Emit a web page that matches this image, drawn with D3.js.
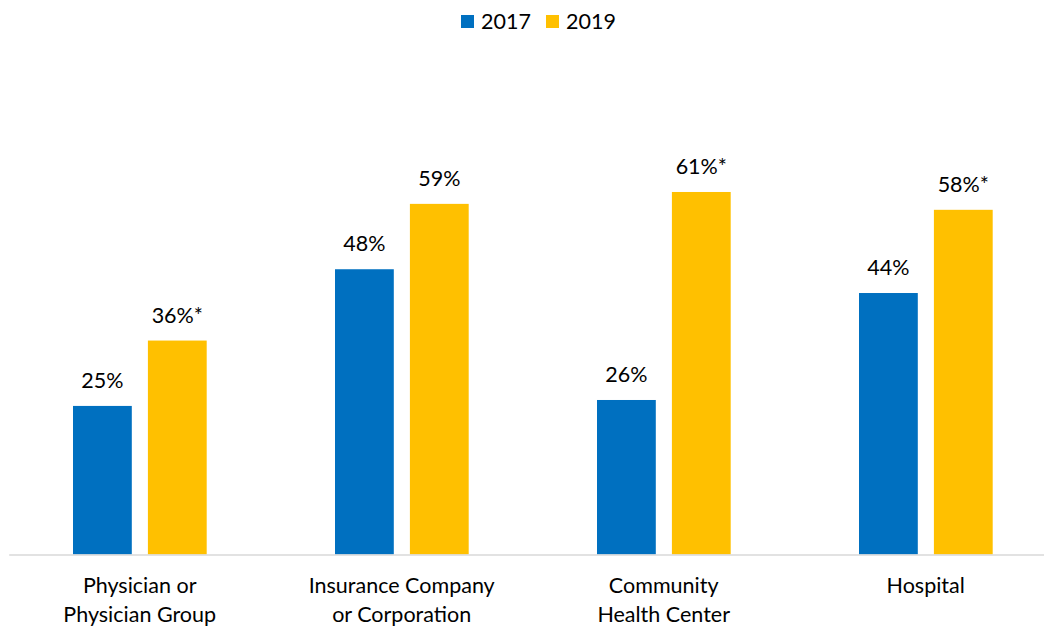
<!DOCTYPE html>
<html>
<head>
<meta charset="utf-8">
<script src="https://cdn.jsdelivr.net/npm/d3@7"></script>
<style>
  html, body { margin: 0; padding: 0; background: #ffffff; }
  svg { display: block; font-family: Lato, "Open Sans", sans-serif; }
</style>
</head>
<body>
<svg id="chart" width="1044" height="629"></svg>
<script>
// Share of respondents by organization type, 2017 vs 2019
const categories = [
  ["Physician or", "Physician Group"],
  ["Insurance Company", "or Corporation"],
  ["Community", "Health Center"],
  ["Hospital"]
];
const years = ["2017", "2019"];
const values2017 = [25, 48, 26, 44];
const values2019 = [36, 59, 61, 58];
const labels2017 = ["25%", "48%", "26%", "44%"];
const labels2019 = ["36%*", "59%", "61%*", "58%*"];
const colors = ["#0070C0", "#FFC000"];

const svg = d3.select("#chart");
const fontSize = 21.5;

const baseline = 554.5;
const x0 = d3.scaleBand()
  .domain(d3.range(categories.length))
  .range([8.7, 1056.7])
  .padding(0);
const x1 = d3.scaleBand()
  .domain(years)
  .range([64.3, 198])
  .paddingInner(0.215)
  .paddingOuter(0);
const y = d3.scaleLinear().domain([0, 70]).range([baseline, baseline - 416]);

const series = [values2017, values2019];
const seriesLabels = [labels2017, labels2019];

const groups = svg.append("g")
  .selectAll("g")
  .data(categories.map((c, i) => i))
  .join("g")
  .attr("transform", i => `translate(${x0(i)},0)`);

years.forEach((yr, s) => {
  groups.append("rect")
    .attr("x", x1(yr))
    .attr("width", x1.bandwidth())
    .attr("y", i => y(series[s][i]))
    .attr("height", i => baseline - y(series[s][i]))
    .attr("fill", colors[s]);
  groups.append("text")
    .attr("x", x1(yr) + x1.bandwidth() / 2)
    .attr("y", i => y(series[s][i]) - 18)
    .attr("text-anchor", "middle")
    .attr("font-size", fontSize)
    .attr("fill", "#000")
    .text(i => seriesLabels[s][i]);
});

// category axis
const axis = svg.append("g")
  .attr("transform", `translate(0,${baseline})`)
  .call(d3.axisBottom(x0).tickSize(0).tickFormat(""));
axis.select(".domain").attr("stroke", "#d9d9d9").attr("stroke-width", 1.5);

groups.append("text")
  .attr("x", x0.bandwidth() / 2)
  .attr("text-anchor", "middle")
  .attr("font-size", fontSize)
  .attr("fill", "#000")
  .selectAll("tspan")
  .data(i => categories[i])
  .join("tspan")
  .attr("x", x0.bandwidth() / 2)
  .attr("y", (d, j) => 593 + j * 29)
  .text(d => d);

// legend
const legendItems = [{ x: 461, label: years[0], c: colors[0] }, { x: 546, label: years[1], c: colors[1] }];
const legend = svg.append("g");
legendItems.forEach(it => {
  legend.append("rect").attr("x", it.x).attr("y", 15).attr("width", 13).attr("height", 13).attr("fill", it.c);
  legend.append("text").attr("x", it.x + 20).attr("y", 29).attr("font-size", fontSize).attr("fill", "#000").text(it.label);
});
</script>
</body>
</html>
